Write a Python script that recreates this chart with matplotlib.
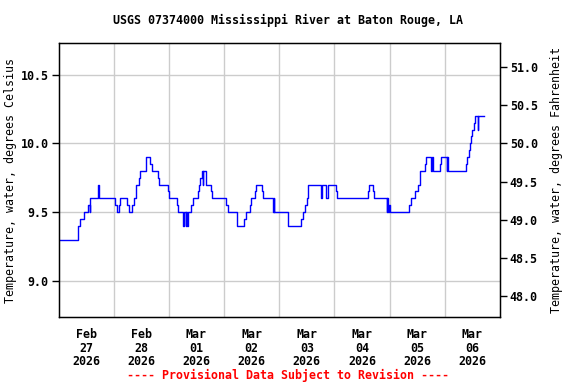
import pandas as pd
import matplotlib
matplotlib.use("Agg")
import matplotlib.pyplot as plt
import matplotlib.dates as mdates
from matplotlib.ticker import FixedLocator, FormatStrFormatter

# step change points: hours after 2026-02-27 00:00, water temperature (deg C)
hours = [0, 8.5, 9.25, 11.25, 13.0, 13.5, 13.75, 17.0, 17.25, 17.5,
         24.5, 25.25, 26.25, 26.75, 29.75, 30.5, 32.0, 32.75, 33.5, 33.75,
         35.0, 35.5, 38.0, 38.25, 40.0, 40.5, 43.25, 43.5, 47.75, 48.0,
         51.5, 52.0, 54.25, 54.5, 55.25, 55.5, 56.0, 56.5, 57.5, 58.5,
         60.5, 61.25, 61.75, 62.25, 62.75, 63.0, 64.0, 66.25, 66.75,
         72.75, 73.5, 77.5, 77.75, 80.75, 81.5, 83.25, 83.75, 85.25, 86.0,
         88.5, 88.75, 93.25, 93.5, 93.75, 99.75, 100.0, 105.5, 106.5,
         107.25, 108.0, 108.5, 114.0, 114.5, 116.5, 117.0, 120.75, 121.25,
         134.5, 135.0, 136.75, 137.0, 142.75, 143.0, 143.25, 143.75, 144.25,
         152.5, 153.25, 155.25, 156.25, 157.0, 159.5, 159.75, 162.0, 162.5,
         163.0, 165.75, 166.25, 168.75, 169.0, 169.25, 177.0, 177.75, 178.5,
         178.75, 179.5, 180.0, 180.75, 181.0, 182.25, 182.5, 185.0]
temps = [9.30, 9.40, 9.45, 9.50, 9.55, 9.50, 9.60, 9.65, 9.70, 9.60,
         9.55, 9.50, 9.55, 9.60, 9.55, 9.50, 9.55, 9.60, 9.65, 9.70,
         9.75, 9.80, 9.85, 9.90, 9.85, 9.80, 9.75, 9.70, 9.65, 9.60,
         9.55, 9.50, 9.40, 9.50, 9.40, 9.50, 9.40, 9.50, 9.55, 9.60,
         9.65, 9.70, 9.75, 9.80, 9.70, 9.80, 9.70, 9.65, 9.60,
         9.55, 9.50, 9.45, 9.40, 9.45, 9.50, 9.55, 9.60, 9.65, 9.70,
         9.65, 9.60, 9.50, 9.60, 9.50, 9.45, 9.40, 9.45, 9.50,
         9.55, 9.60, 9.70, 9.60, 9.70, 9.60, 9.70, 9.65, 9.60,
         9.65, 9.70, 9.65, 9.60, 9.50, 9.60, 9.50, 9.55, 9.50,
         9.55, 9.60, 9.65, 9.70, 9.80, 9.85, 9.90, 9.80, 9.90,
         9.80, 9.85, 9.90, 9.80, 9.90, 9.80, 9.85, 9.90, 9.95,
         10.00, 10.05, 10.10, 10.15, 10.20, 10.10, 10.20, 10.20]

start = pd.Timestamp("2026-02-27")
days = pd.date_range("2026-02-27", "2026-03-07", freq="D")
day_labels = [d.strftime("%b\n%d\n%Y") for d in days[:-1]]
c_ticks = [9.0, 9.5, 10.0, 10.5]
f_ticks = [48.0, 48.5, 49.0, 49.5, 50.0, 50.5, 51.0]

times = start + pd.to_timedelta(hours, unit="h")

plt.rcParams["font.family"] = "DejaVu Sans Mono"
plt.rcParams["font.weight"] = "bold"
plt.rcParams["font.size"] = 8.4

fig = plt.figure(figsize=(5.76, 3.84), dpi=100)
ax = fig.add_axes([58.5 / 576, 1 - 317.3 / 384, (500 - 58.5) / 576, (317.3 - 43.3) / 384])

ax.plot(times, temps, drawstyle="steps-post", color="#0000ff", lw=1.0)

ylo, yhi = 8.734, 10.728
ax.set_ylim(ylo, yhi)
ax.set_xlim(days[0], days[-1])
ax.yaxis.set_major_locator(FixedLocator(c_ticks))
ax.yaxis.set_major_formatter(FormatStrFormatter("%.1f"))

noon = [d + pd.Timedelta(hours=12) for d in days[:-1]]
ax.xaxis.set_major_locator(FixedLocator(mdates.date2num(noon)))
ax.set_xticklabels(day_labels, linespacing=1.05)
ax.xaxis.set_minor_locator(FixedLocator(mdates.date2num(days[1:-1])))
ax.tick_params(axis="x", which="both", length=0, pad=8)
ax.tick_params(axis="y", length=5, width=1, pad=2)
ax.grid(True, which="minor", axis="x", color="#cccccc", lw=1)
ax.grid(True, which="major", axis="y", color="#cccccc", lw=1)
ax.set_axisbelow(True)
for s in ax.spines.values():
    s.set_linewidth(1)

ax.set_ylabel("Temperature, water, degrees Celsius", labelpad=2.5)

ax2 = ax.twinx()
ax2.set_ylim(ylo * 1.8 + 32, yhi * 1.8 + 32)
ax2.yaxis.set_major_locator(FixedLocator(f_ticks))
ax2.yaxis.set_major_formatter(FormatStrFormatter("%.1f"))
ax2.tick_params(axis="y", length=5, width=1, pad=2)
ax2.set_ylabel("Temperature, water, degrees Fahrenheit", rotation=90, labelpad=9)

fig.text(0.5, 1 - 20 / 384, "USGS 07374000 Mississippi River at Baton Rouge, LA",
         ha="center", va="center")
fig.text(0.5, 1 - 375 / 384, "---- Provisional Data Subject to Revision ----",
         ha="center", va="center", color="red")

fig.savefig("out.png", dpi=100)
